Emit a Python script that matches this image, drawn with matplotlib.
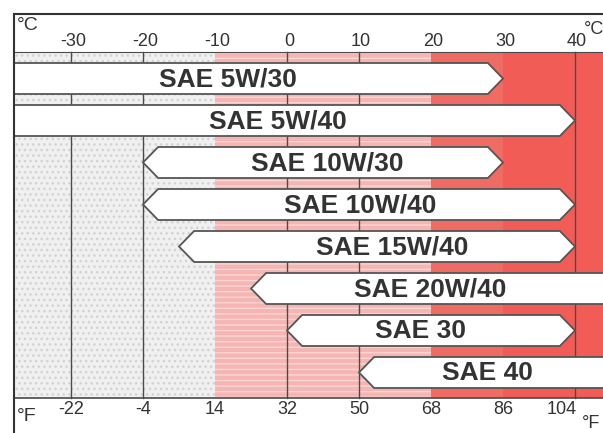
import matplotlib.pyplot as plt
from matplotlib.patches import Polygon, Rectangle

plt.rcParams['font.family'] = ['Liberation Sans', 'DejaVu Sans']

# oil grades and their temperature ranges in degC (None = open ended)
grades = ['SAE 5W/30', 'SAE 5W/40', 'SAE 10W/30', 'SAE 10W/40',
          'SAE 15W/40', 'SAE 20W/40', 'SAE 30', 'SAE 40']
t_low = [None, None, -20, -20, -15, -5, 0, 10]
t_high = [30, 40, 30, 40, 40, None, 40, None]
label_at = [-8.2, -1.3, 5.6, 10.1, 14.6, 19.9, 18.6, 27.9]

celsius_ticks = [-30, -20, -10, 0, 10, 20, 30, 40]
fahrenheit_ticks = [round(c * 9 / 5 + 32) for c in celsius_ticks]
zone_edges = [-10, 20, 30]

# layout: 7.2 px per degC, 0 degC at x=287 px; rows 42 px apart, first row centre at 78.5 px
px_x = lambda px: (px - 287) / 7.2
px_y = lambda px: (px - 78.5) / 42.0

fig = plt.figure(figsize=(6.03, 4.33), dpi=100)
ax = fig.add_axes([0, 0, 1, 1])
ax.set_xlim(px_x(0), px_x(603))
ax.set_ylim(px_y(433), px_y(0))
ax.axis('off')

x0 = px_x(14)
x1 = px_x(620)
band_top, band_bot = px_y(52), px_y(398)
h = band_bot - band_top

# background zones
ax.add_patch(Rectangle((x0, band_top), zone_edges[0] - x0, h, facecolor='#f0f0f0',
                       edgecolor='#d2d2d2', hatch='...', lw=0, zorder=0))
ax.add_patch(Rectangle((zone_edges[0], band_top), zone_edges[1] - zone_edges[0], h,
                       facecolor='#f5b5b3', edgecolor='#fbd6d4', hatch='---', lw=0, zorder=0))
ax.add_patch(Rectangle((zone_edges[1], band_top), zone_edges[2] - zone_edges[1], h,
                       facecolor='#ef6c64', lw=0, zorder=0))
ax.add_patch(Rectangle((zone_edges[2], band_top), x1 - zone_edges[2], h,
                       facecolor='#f25c56', lw=0, zorder=0))

line_col = '#4a4a4a'
for c in celsius_ticks:
    if c not in zone_edges:
        ax.plot([c, c], [band_top, band_bot], color=line_col, lw=1, zorder=1)
ax.plot([x0, x1], [band_top, band_top], color=line_col, lw=0.8, zorder=1)
ax.plot([x0, x1], [band_bot, band_bot], color=line_col, lw=1.2, zorder=1)

# frame
ax.plot([x0, x1], [px_y(13.5), px_y(13.5)], color='#333333', lw=1.5, zorder=4)
ax.plot([x0, x0], [px_y(13.5), px_y(440)], color='#333333', lw=1.5, zorder=4)

# arrows
half = 15.5 / 42.0
tip = 2.1
for i, (lo, hi) in enumerate(zip(t_low, t_high)):
    if lo is None:
        left = [(x0, i + half), (x0, i - half)]
    else:
        left = [(lo + tip, i + half), (lo, i), (lo + tip, i - half)]
    if hi is None:
        right = [(x1, i - half), (x1, i + half)]
    else:
        right = [(hi - tip, i - half), (hi, i), (hi - tip, i + half)]
    ax.add_patch(Polygon(left + right, closed=True, facecolor='white',
                         edgecolor='#555555', lw=1.3, zorder=2))
    ax.text(label_at[i], i + 0.02, grades[i], ha='center', va='center',
            fontsize=19, fontweight='bold', color='#333333', zorder=3)

# temperature scales
tick_kw = dict(fontsize=13, color='#333333', ha='center', va='center')
for c, f in zip(celsius_ticks, fahrenheit_ticks):
    ax.text(c + 0.3, px_y(42), str(c), **tick_kw)
    if f == fahrenheit_ticks[-1]:
        ax.text(c + 0.3, px_y(410), str(f), fontsize=13, color='#333333',
                ha='right', va='center')
    else:
        ax.text(c, px_y(410), str(f), **tick_kw)

ax.text(px_x(17), px_y(25), '°C', fontsize=14, color='#333333', ha='left', va='center')
ax.text(px_x(584), px_y(30), '°C', fontsize=13, color='#333333', ha='left', va='center')
ax.text(px_x(17), px_y(416), '°F', fontsize=14, color='#333333', ha='left', va='center')
ax.text(px_x(582), px_y(424), '°F', fontsize=13, color='#333333', ha='left', va='center')

fig.savefig('out.png', dpi=100, facecolor='white')
